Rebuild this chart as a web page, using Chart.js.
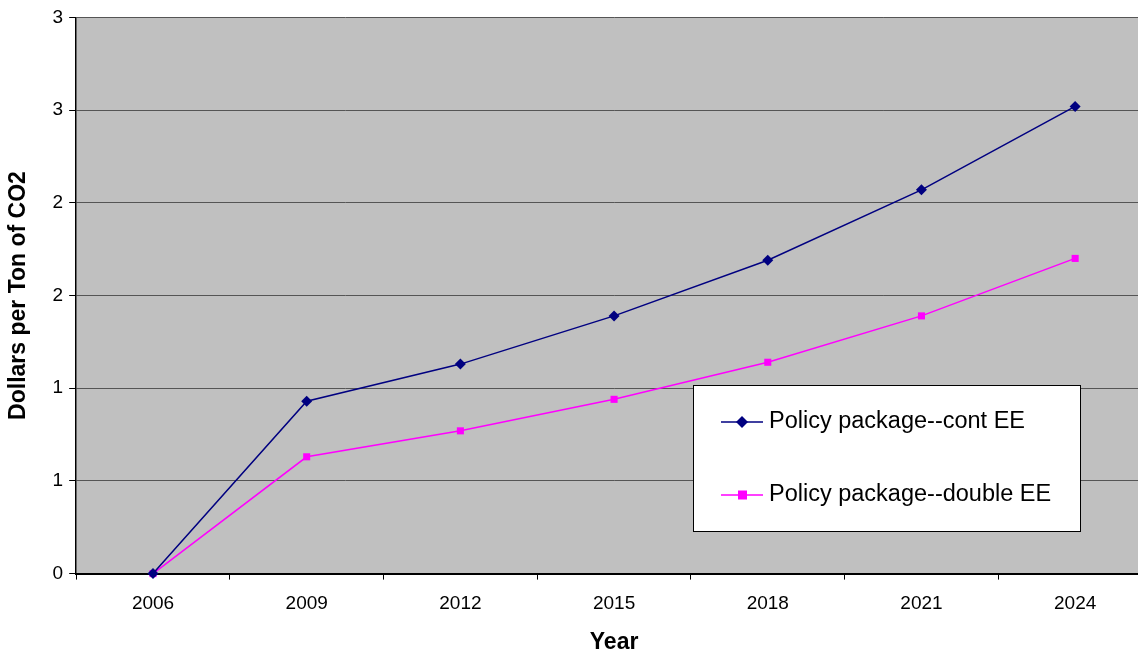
<!DOCTYPE html>
<html>
<head>
<meta charset="utf-8">
<script src="https://cdn.jsdelivr.net/npm/chart.js@4"></script>
<style>
  html, body { margin: 0; padding: 0; background: #fff; overflow: hidden; }
  /* the original plot area runs a little past the right edge of the picture */
  #wrap { width: 1138px; height: 650px; overflow: hidden; }
</style>
</head>
<body>
<div id="wrap"><canvas id="co2Chart" width="1152" height="650"></canvas></div>
<script>
// Chart data
const years = ['2006', '2009', '2012', '2015', '2018', '2021', '2024'];
const contEE = [0, 0.93, 1.13, 1.39, 1.69, 2.07, 2.52];
const doubleEE = [0, 0.63, 0.77, 0.94, 1.14, 1.39, 1.70];
// the original axis rounds its 0.5 steps to whole numbers
const yTickLabels = ['0', '1', '1', '2', '2', '3', '3'];

const FONT = 'Liberation Sans, Arial, sans-serif';

// gray plot background
const plotBackground = {
    id: 'plotBackground',
    beforeDraw(chart) {
        const { ctx, chartArea } = chart;
        ctx.save();
        ctx.fillStyle = '#C0C0C0';
        ctx.fillRect(chartArea.left, chartArea.top, chartArea.right - chartArea.left, chartArea.bottom - chartArea.top);
        ctx.restore();
    }
};

// boxed legend sitting inside the plot, lower right
const boxLegend = {
    id: 'boxLegend',
    afterDraw(chart) {
        const ctx = chart.ctx;
        const x = 693, y = 385, w = 387, h = 146;
        ctx.save();
        ctx.fillStyle = '#fff';
        ctx.fillRect(x, y, w, h);
        ctx.strokeStyle = '#000';
        ctx.lineWidth = 1;
        ctx.strokeRect(x + 0.5, y + 0.5, w, h);

        chart.data.datasets.forEach((ds, i) => {
            const rowY = y + 37 + i * 73;
            ctx.strokeStyle = ds.borderColor;
            ctx.lineWidth = 1.5;
            ctx.beginPath();
            ctx.moveTo(x + 28, rowY);
            ctx.lineTo(x + 70, rowY);
            ctx.stroke();
            ctx.fillStyle = ds.backgroundColor;
            if (ds.pointStyle === 'rectRot') {
                ctx.beginPath();
                ctx.moveTo(x + 49, rowY - 6);
                ctx.lineTo(x + 55, rowY);
                ctx.lineTo(x + 49, rowY + 6);
                ctx.lineTo(x + 43, rowY);
                ctx.closePath();
                ctx.fill();
            } else {
                ctx.fillRect(x + 45, rowY - 4.5, 9, 9);
            }
            ctx.fillStyle = '#000';
            ctx.font = '23.5px ' + FONT;
            ctx.textBaseline = 'middle';
            ctx.fillText(ds.label, x + 76, rowY);
        });
        ctx.restore();
    }
};

window.onload = function() {
    const ctx = document.getElementById('co2Chart').getContext('2d');
    new Chart(ctx, {
        type: 'line',
        data: {
            labels: years,
            datasets: [
                {
                    label: 'Policy package--cont EE',
                    data: contEE,
                    borderColor: '#000080',
                    backgroundColor: '#000080',
                    borderWidth: 1.5,
                    pointStyle: 'rectRot',
                    pointRadius: 5.5,
                    pointBorderWidth: 0,
                    tension: 0,
                    clip: false
                },
                {
                    label: 'Policy package--double EE',
                    data: doubleEE,
                    borderColor: '#FF00FF',
                    backgroundColor: '#FF00FF',
                    borderWidth: 1.5,
                    pointStyle: 'rect',
                    pointRadius: 5,
                    pointBorderWidth: 0,
                    tension: 0,
                    clip: false
                }
            ]
        },
        options: {
            responsive: false,
            animation: false,
            layout: { autoPadding: false, padding: { top: 6, right: 0, left: 5, bottom: -6 } },
            plugins: {
                legend: { display: false },
                tooltip: { enabled: false }
            },
            scales: {
                x: {
                    offset: true,
                    afterFit(scale) {
                        scale.paddingRight = 0;
                    },
                    grid: {
                        offset: true,
                        drawOnChartArea: false,
                        color: '#000',
                        tickLength: 6
                    },
                    border: { color: '#000', width: 2 },
                    ticks: {
                        color: '#000',
                        font: { family: FONT, size: 19 },
                        padding: 13,
                        maxRotation: 0
                    },
                    title: {
                        display: true,
                        text: 'Year',
                        color: '#000',
                        font: { family: FONT, size: 23, weight: 'bold' },
                        padding: { top: 0, bottom: 0 }
                    }
                },
                y: {
                    min: 0,
                    max: 3,
                    grid: {
                        color: '#555',
                        tickLength: 7,
                        tickColor: '#000'
                    },
                    border: { color: '#000', width: 1.5 },
                    ticks: {
                        stepSize: 0.5,
                        color: '#000',
                        font: { family: FONT, size: 19 },
                        padding: 6,
                        callback: (value, index) => yTickLabels[index]
                    },
                    title: {
                        display: true,
                        text: 'Dollars per Ton of CO2',
                        color: '#000',
                        font: { family: FONT, size: 23, weight: 'bold' },
                        padding: { top: 0, bottom: 14 }
                    }
                }
            }
        },
        plugins: [plotBackground, boxLegend]
    });
};
</script>
</body>
</html>
